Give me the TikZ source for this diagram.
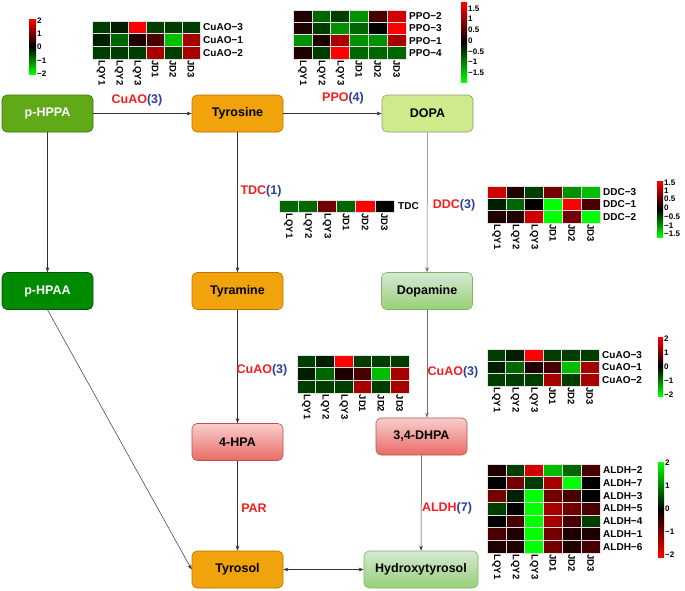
\documentclass[tikz,border=0pt]{standalone}
\usepackage{fontspec}
\setmainfont{Liberation Sans}
\usepackage{xcolor}
\usetikzlibrary{arrows.meta}

\definecolor{hppafill}{HTML}{60A917}
\definecolor{hppaline}{HTML}{2D7600}
\definecolor{hpaafill}{HTML}{008A00}
\definecolor{hpaaline}{HTML}{005700}
\definecolor{tyrfill}{HTML}{F0A30A}
\definecolor{tyrline}{HTML}{BD7000}
\definecolor{dopafill}{HTML}{CDEB8B}
\definecolor{dopaline}{HTML}{8A9A7A}
\definecolor{minttop}{HTML}{D5E8D4}
\definecolor{mintbot}{HTML}{97D077}
\definecolor{mintline}{HTML}{82B366}
\definecolor{pinktop}{HTML}{F8CECC}
\definecolor{pinkbot}{HTML}{EA6B66}
\definecolor{pinkline}{HTML}{B85450}
\definecolor{enzred}{HTML}{F41E1E}
\definecolor{enzblue}{HTML}{27409B}
\definecolor{flowline}{HTML}{333333}
\definecolor{flowgrey}{HTML}{6E6E6E}
\colorlet{cellline}{white!78!gray}

% heatmap palette
\colorlet{r5}{red}
\colorlet{r4}{red!82!black}
\colorlet{r3}{red!65!black}
\colorlet{r2}{red!45!black}
\colorlet{r1}{red!28!black}
\colorlet{r0}{red!12!black}
\colorlet{k}{black}
\colorlet{g0}{green!12!black}
\colorlet{g1}{green!24!black}
\colorlet{g2}{green!40!black}
\colorlet{g3}{green!57!black}
\colorlet{g4}{green!74!black}
\colorlet{g5}{green}

\newcommand{\enzlabel}[2]{\textcolor{enzred}{#1}\textcolor{enzblue}{(#2)}}

% #1 name, #2 left, #3 top, #4 cell width, #5 cell height, #6 rows, #7 colours
\newcommand{\hmapcells}[7]{%
  \foreach \hmrow [count=\hmr] in {#7} {
    \foreach \hmc [count=\hmk] in \hmrow
      \path[cell, fill=\hmc] ({#2+(\hmk-1)*#4},{#3+(\hmr-1)*#5}) rectangle ++(#4,#5);
  }
  \foreach \hmlab [count=\hmk] in {LQY1,LQY2,LQY3,JD1,JD2,JD3}
    \node[collab] (#1-col\hmk) at ({#2+(\hmk-0.5)*#4},{#3+#6*#5+1.5}) {\hmlab};
}
% #1 name, #2 x, #3 top, #4 cell height, #5 labels
\newcommand{\hmaprows}[5]{%
  \foreach \hmlab [count=\hmr] in {#5}
    \node[rowlab] (#1-row\hmr) at (#2,{#3+(\hmr-0.5)*#4}) {\hmlab};
}
% #1 name, #2 x, #3 y, #4 width, #5 height, #6 top colour, #7 bottom colour, #8 y/label
\newcommand{\hmapbar}[8]{%
  \shade[top color=#6, bottom color=#7, middle color=black] (#2,#3) rectangle ++(#4,#5);
  \foreach \hmy/\hmlab [count=\hmk] in {#8}
    \node[barlab] (#1-tick\hmk) at ({#2+#4+1},\hmy) {\hmlab};
}

\begin{document}
\begin{tikzpicture}[x=1pt, y=-1pt,
    box/.style={rectangle, rounded corners=5pt, minimum width=91pt, minimum height=37pt, line width=0.6pt, align=center, font=\fontsize{12.5}{14}\selectfont\bfseries},
    greenbox/.style={box, fill=hppafill, draw=hppaline, text=white},
    deepbox/.style={box, fill=hpaafill, draw=hpaaline, text=white},
    orangebox/.style={box, fill=tyrfill, draw=tyrline},
    limebox/.style={box, fill=dopafill, draw=dopaline},
    mintbox/.style={box, top color=minttop, bottom color=mintbot, draw=mintline},
    pinkbox/.style={box, top color=pinktop, bottom color=pinkbot, draw=pinkline},
    flow/.style={-{Stealth[length=5pt, width=3.6pt]}, line width=0.5pt, draw=flowline},
    enz/.style={font=\fontsize{12.5}{14}\selectfont\bfseries, inner sep=0pt},
    cell/.style={draw=cellline, line width=0.6pt},
    collab/.style={font=\fontsize{9.5}{10}\selectfont\bfseries, rotate=-90, anchor=west, inner sep=0pt},
    rowlab/.style={font=\fontsize{10}{11}\selectfont\bfseries, anchor=west, inner sep=0pt},
    barlab/.style={font=\fontsize{8}{8}\selectfont\bfseries, anchor=west, inner sep=0pt}
  ]
  \fill[white] (0,0) rectangle (685,590);

  % compounds
  \node[greenbox] (hppa) at (47.5,113.5) {p-HPPA};
  \node[orangebox] (tyrosine) at (237.5,113.5) {Tyrosine};
  \node[limebox] (dopa) at (427.5,113.5) {DOPA};
  \node[deepbox] (hpaa) at (47.5,291) {p-HPAA};
  \node[orangebox] (tyramine) at (237.5,291) {Tyramine};
  \node[mintbox] (dopamine) at (427,291) {Dopamine};
  \node[pinkbox] (hpa) at (237.5,442) {4-HPA};
  \node[pinkbox] (dhpa) at (421.5,436.5) {3,4-DHPA};
  \node[orangebox] (tyrosol) at (237.5,569.5) {Tyrosol};
  \node[mintbox, minimum width=114pt] (hydroxy) at (421,569.5) {Hydroxytyrosol};

  % reactions
  \draw[flow] (hppa) -- (tyrosine);
  \draw[flow] (tyrosine) -- (dopa);
  \draw[flow] (hppa) -- (hpaa);
  \draw[flow] (tyrosine) -- (tyramine);
  \draw[flow, draw=flowgrey] (dopa) -- (dopamine);
  \draw[flow] (hpaa.south) -- (tyrosol.west);
  \draw[flow] (tyramine) -- (hpa);
  \draw[flow, draw=flowgrey] (dopamine.south) -- (dopamine.south |- dhpa.north);
  \draw[flow] (hpa) -- (tyrosol);
  \draw[flow] (dhpa) -- (hydroxy);
  \draw[flow, {Stealth[length=5pt, width=3.6pt]}-{Stealth[length=5pt, width=3.6pt]}] (tyrosol) -- (hydroxy);

  % enzymes
  \node[enz] (cuao-a) at (137,100) {\enzlabel{CuAO}{3}};
  \node[enz] (ppo) at (343,98) {\enzlabel{PPO}{4}};
  \node[enz] (tdc) at (261,191) {\enzlabel{TDC}{1}};
  \node[enz] (ddc) at (454,205) {\enzlabel{DDC}{3}};
  \node[enz] (cuao-b) at (262,370) {\enzlabel{CuAO}{3}};
  \node[enz] (cuao-c) at (453,372) {\enzlabel{CuAO}{3}};
  \node[enz] (par) at (254,508) {\textcolor{enzred}{PAR}};
  \node[enz] (aldh) at (447,508) {\enzlabel{ALDH}{7}};

  % heatmaps
  \hmapcells{hmA}{92}{21}{18}{12.67}{3}{{g1,g0,r5,g1,g1,g1},{g0,g2,r0,r1,g4,r3},{g1,g1,g1,r3,g1,r3}}
  \hmaprows{hmA}{203}{21}{12.67}{CuAO−3,CuAO−1,CuAO−2}
  \hmapbar{barA}{29}{19}{7}{55}{red}{green}{21/2,34/1,47/0,61/−1,74/−2}

  \hmapcells{hmP}{293}{10}{18.83}{12.25}{4}{{r0,g2,g1,g3,r1,r4},{r0,g1,g3,g2,k,r5},{g3,r0,r3,g3,g3,r3},{r0,g1,r5,g2,g2,g2}}
  \hmaprows{hmP}{409}{10}{12.25}{PPO−2,PPO−3,PPO−1,PPO−4}
  \hmapbar{barP}{461}{2}{6}{80}{red}{green}{9/1.5,19/1,30/0.5,41/0,52/−0.5,62/−1,73/−1.5}

  \hmapcells{hmT}{279}{200}{19.17}{12}{1}{{g2,g2,r2,g2,r5,k}}
  \hmaprows{hmT}{398}{200}{12}{TDC}

  \hmapcells{hmD}{487}{186}{18.83}{12.33}{3}{{r4,r0,g1,r2,g3,g4},{g0,g2,k,g5,r5,r1},{r0,r0,r4,g5,r2,g5}}
  \hmaprows{hmD}{603}{186}{12.33}{DDC−3,DDC−1,DDC−2}
  \hmapbar{barD}{657}{181}{6}{56}{red}{green}{183/1.5,191/1,199/0.5,208/0,217/−0.5,226/−1,234/−1.5}

  \hmapcells{hmB}{297}{355}{18.67}{12.67}{3}{{g1,g0,r5,g1,g1,g1},{g0,g2,r0,r1,g4,r3},{g1,g1,g1,r3,g1,r3}}

  \hmapcells{hmC}{487}{349}{18.67}{12.33}{3}{{g1,g0,r5,g1,g1,g1},{g0,g2,r0,r1,g4,r3},{g1,g1,g1,r3,g1,r3}}
  \hmaprows{hmC}{602}{349}{12.33}{CuAO−3,CuAO−1,CuAO−2}
  \hmapbar{barC}{658}{337}{5}{59}{red}{green}{339/2,353/1,367/0,381/−1,395/−2}

  \hmapcells{hmL}{487}{464}{18.83}{12.71}{7}{{r0,g1,r4,g4,g2,r1},{k,r2,g1,r3,g5,k},{r2,g0,g5,r2,r1,k},{g1,k,g5,r3,r2,r1},{k,r1,g5,r3,r1,g1},{r1,r0,g5,r2,r0,r0},{r0,r0,g5,r2,r0,r1}}
  \hmaprows{hmL}{603}{464}{12.71}{ALDH−2,ALDH−7,ALDH−3,ALDH−5,ALDH−4,ALDH−1,ALDH−6}
  \hmapbar{barL}{658}{462}{6}{95}{green}{red}{463/2,486/1,509/0,532/−1,555/−2}
\end{tikzpicture}
\end{document}
